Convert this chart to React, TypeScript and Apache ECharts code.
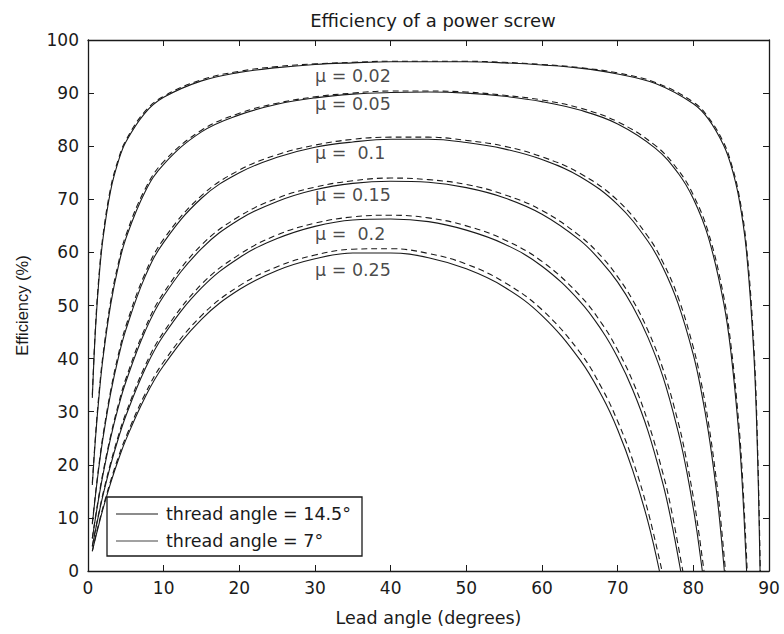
import React, { useEffect, useRef } from "react";
import * as echarts from "echarts";

// Lead angles (degrees) shared by all curves up to 60°
const leadAngleHead = [0.57, 1, 1.5, 2, 3, 4, 5, 7.5, 10, 15, 20, 25, 30, 35, 40, 45, 50, 55, 60];

// Friction coefficients and their labels
const muValues = [0.02, 0.05, 0.1, 0.15, 0.2, 0.25];
const muLabels = ["μ = 0.02", "μ = 0.05", "μ =  0.1", "μ = 0.15", "μ =  0.2", "μ = 0.25"];
const labelLeadAngle = [30, 30, 30, 30, 30, 30];
const labelEfficiency = [93.3, 87.9, 78.8, 70.9, 63.5, 56.7];

// Lead angles past 60° for each μ
const tailAngles002 = [65, 70, 75, 80, 82, 84, 85, 86, 87, 88, 88.5];
const tailAngles005 = [65, 70, 75, 78, 80, 82, 84, 85, 86, 86.5];
const tailAngles010 = [65, 70, 74, 76, 78, 80, 81, 82, 83, 83.5];
const tailAngles015 = [65, 68, 70, 72, 74, 76, 78, 79, 80, 80.5];
const tailAngles020 = [65, 68, 70, 72, 74, 76, 77];
const tailAngles025 = [65, 68, 70, 72, 74];

// Lead angle where efficiency reaches 0
const zeroAngle145 = [88.82, 87.04, 84.1, 81.19, 78.33, 75.52];
const zeroAngle7 = [88.85, 87.12, 84.25, 81.41, 78.61, 75.86];

// Efficiency (%) — thread angle 14.5° (solid)
const eff145_002 = [32.6, 45.8, 55.9, 62.8, 71.7, 77.1, 80.8, 86.2, 89.2, 92.3, 93.9, 94.8, 95.4, 95.7, 95.9, 95.9, 95.9, 95.7, 95.3, 94.7, 93.6, 91.8, 88.0, 85.1, 80.2, 76.3, 70.4, 60.5, 40.8, 21.1];
const eff145_005 = [16.2, 25.2, 33.6, 40.3, 50.2, 57.3, 62.6, 71.3, 76.6, 82.7, 85.9, 87.9, 89.1, 89.8, 90.1, 90.2, 90.0, 89.4, 88.4, 86.8, 84.2, 79.6, 74.9, 70.1, 62.8, 50.6, 40.8, 26.1, 15.5];
const eff145_010 = [8.8, 14.4, 20.2, 25.2, 33.5, 40.1, 45.4, 55.3, 61.9, 70.2, 75.0, 77.9, 79.8, 80.8, 81.3, 81.3, 80.7, 79.5, 77.5, 74.3, 69.0, 62.1, 57.1, 50.3, 40.7, 34.2, 26.1, 15.7, 9.2];
const eff145_015 = [6.1, 10.1, 14.4, 18.3, 25.1, 30.8, 35.6, 45.0, 51.8, 60.7, 66.2, 69.6, 71.8, 73.0, 73.4, 73.2, 72.2, 70.3, 67.2, 62.3, 58.0, 54.4, 49.8, 44.0, 36.5, 26.2, 19.7, 11.8, 7.2];
const eff145_020 = [4.6, 7.8, 11.2, 14.4, 20.0, 24.9, 29.2, 37.9, 44.4, 53.3, 59.0, 62.6, 64.9, 66.1, 66.3, 65.8, 64.2, 61.6, 57.4, 50.8, 45.1, 40.2, 34.1, 26.4, 16.3, 10.0];
const eff145_025 = [3.7, 6.3, 9.1, 11.8, 16.6, 20.9, 24.7, 32.6, 38.7, 47.4, 53.0, 56.6, 58.8, 59.9, 59.9, 59.0, 56.9, 53.5, 48.1, 39.8, 32.7, 26.6, 18.9, 9.3];

// Efficiency (%) — thread angle 7° (dashed)
const eff7_002 = [33.2, 46.4, 56.5, 63.4, 72.2, 77.5, 81.1, 86.5, 89.4, 92.5, 94.1, 95.0, 95.5, 95.8, 96.0, 96.0, 96.0, 95.8, 95.4, 94.8, 93.8, 92.0, 88.3, 85.4, 80.7, 76.8, 71.1, 61.5, 42.3, 23.0];
const eff7_005 = [16.6, 25.7, 34.2, 40.9, 50.9, 57.9, 63.2, 71.8, 77.1, 83.0, 86.2, 88.1, 89.3, 90.0, 90.4, 90.4, 90.2, 89.6, 88.7, 87.2, 84.6, 80.1, 75.5, 70.8, 63.7, 51.8, 42.2, 27.9, 17.6];
const eff7_010 = [9.0, 14.7, 20.6, 25.7, 34.0, 40.7, 46.1, 55.9, 62.5, 70.7, 75.5, 78.4, 80.2, 81.3, 81.7, 81.7, 81.1, 80.0, 78.0, 74.9, 69.8, 63.0, 58.1, 51.5, 42.1, 35.8, 27.9, 17.7, 11.4];
const eff7_015 = [6.2, 10.3, 14.7, 18.7, 25.5, 31.3, 36.2, 45.6, 52.4, 61.4, 66.8, 70.2, 72.3, 73.5, 74.0, 73.7, 72.8, 70.9, 67.9, 63.1, 59.0, 55.4, 51.0, 45.3, 38.0, 28.0, 21.6, 13.9, 9.5];
const eff7_020 = [4.7, 7.9, 11.4, 14.7, 20.4, 25.4, 29.7, 38.5, 45.0, 54.0, 59.6, 63.3, 65.5, 66.7, 67.0, 66.5, 65.0, 62.4, 58.3, 51.9, 46.4, 41.6, 35.7, 28.1, 18.3, 12.2];
const eff7_025 = [3.8, 6.5, 9.4, 12.1, 17.0, 21.4, 25.2, 33.2, 39.4, 48.1, 53.7, 57.3, 59.5, 60.6, 60.7, 59.8, 57.8, 54.4, 49.2, 41.2, 34.2, 28.2, 20.8, 11.3];

const tails = [tailAngles002, tailAngles005, tailAngles010, tailAngles015, tailAngles020, tailAngles025];
const eff145 = [eff145_002, eff145_005, eff145_010, eff145_015, eff145_020, eff145_025];
const eff7 = [eff7_002, eff7_005, eff7_010, eff7_015, eff7_020, eff7_025];

const legendTexts = ["thread angle = 14.5°", "thread angle = 7°"];

const FONT = "'DejaVu Sans', 'Liberation Sans', Arial, sans-serif";
const FONT_NARROW = "'Liberation Sans', Arial, Helvetica, sans-serif";
const INK = "#1a1a1a";

function pairs(angles: number[], values: number[], zero: number): number[][] {
  const out: number[][] = angles.map((a, i) => [a, values[i]]);
  out.push([zero, 0]);
  return out;
}

export default function App() {
  const ref = useRef<HTMLDivElement>(null);
  useEffect(() => {
    const chart = echarts.init(ref.current!, null, { renderer: "svg" });
    const series: any[] = [];
    muValues.forEach((mu, i) => {
      const angles = leadAngleHead.concat(tails[i]);
      series.push({
        type: "line",
        name: `14.5 ${mu}`,
        data: pairs(angles, eff145[i], zeroAngle145[i]),
        showSymbol: false,
        smooth: 0.4,
        silent: true,
        lineStyle: { color: INK, width: 1.1, type: "solid" },
        z: 3,
      });
      series.push({
        type: "line",
        name: `7 ${mu}`,
        data: pairs(angles, eff7[i], zeroAngle7[i]),
        showSymbol: false,
        smooth: 0.4,
        silent: true,
        lineStyle: { color: INK, width: 1.1, type: [6, 4] },
        z: 3,
      });
    });
    series.push({
      type: "scatter",
      silent: true,
      symbolSize: 0,
      data: labelLeadAngle.map((a, i) => [a, labelEfficiency[i]]),
      label: {
        show: true,
        position: "right",
        distance: 0,
        formatter: (p: any) => muLabels[p.dataIndex],
        fontFamily: FONT,
        fontSize: 17.5,
        color: INK,
      },
      z: 5,
    });

    const axisCommon = {
      axisLine: { show: true, onZero: false, lineStyle: { color: INK, width: 1.3 } },
      axisTick: { show: true, inside: true, length: 6, lineStyle: { color: INK, width: 1 } },
      splitLine: { show: false },
    };

    const legendX = 107, legendY = 497, legendW = 255, legendH = 59;
    const option: any = {
      animation: false,
      backgroundColor: "#ffffff",
      textStyle: { fontFamily: FONT },
      title: {
        text: "Efficiency of a power screw",
        left: 428,
        textAlign: "center",
        top: 6,
        textStyle: { fontFamily: FONT, fontSize: 18, fontWeight: "normal", color: INK },
      },
      grid: { left: 88, right: 15, top: 40, bottom: 63, containLabel: false },
      xAxis: [
        {
          type: "value", min: 0, max: 90, interval: 10, position: "bottom",
          ...axisCommon,
          axisLabel: { fontFamily: FONT, fontSize: 17, color: INK, margin: 8 },
          name: "Lead angle (degrees)", nameLocation: "middle", nameGap: 38,
          nameTextStyle: { fontFamily: FONT, fontSize: 17.5, color: INK },
        },
        {
          type: "value", min: 0, max: 90, interval: 10, position: "top",
          ...axisCommon,
          axisLabel: { show: false },
        },
      ],
      yAxis: [
        {
          type: "value", min: 0, max: 100, interval: 10, position: "left",
          ...axisCommon,
          axisLabel: { fontFamily: FONT, fontSize: 17, color: INK, margin: 9 },
          name: "Efficiency (%)", nameLocation: "middle", nameGap: 58, nameRotate: 90,
          nameTextStyle: { fontFamily: FONT_NARROW, fontSize: 16.5, color: INK },
        },
        {
          type: "value", min: 0, max: 100, interval: 10, position: "right",
          ...axisCommon,
          axisLabel: { show: false },
        },
      ],
      series,
      graphic: [
        {
          type: "rect",
          shape: { x: legendX, y: legendY, width: legendW, height: legendH },
          style: { fill: "#ffffff", stroke: INK, lineWidth: 1.3 },
          z: 10,
        },
        ...legendTexts.flatMap((t, i) => {
          const y = legendY + 17 + i * 27;
          return [
            {
              type: "line",
              shape: { x1: legendX + 9, y1: y, x2: legendX + 51, y2: y },
              style: { stroke: i === 0 ? INK : "#444", lineWidth: 1.1 },
              z: 11,
            },
            {
              type: "text",
              x: legendX + 59,
              y,
              style: { text: t, fontFamily: FONT, fontSize: 17.5, fill: INK, verticalAlign: "middle", align: "left" },
              z: 11,
            },
          ];
        }),
      ],
    };
    chart.setOption(option);
    return () => chart.dispose();
  }, []);
  return (
    <div
      ref={ref}
      style={{ position: "absolute", left: 0, top: 0, width: 784, height: 634, background: "#fff" }}
    />
  );
}
